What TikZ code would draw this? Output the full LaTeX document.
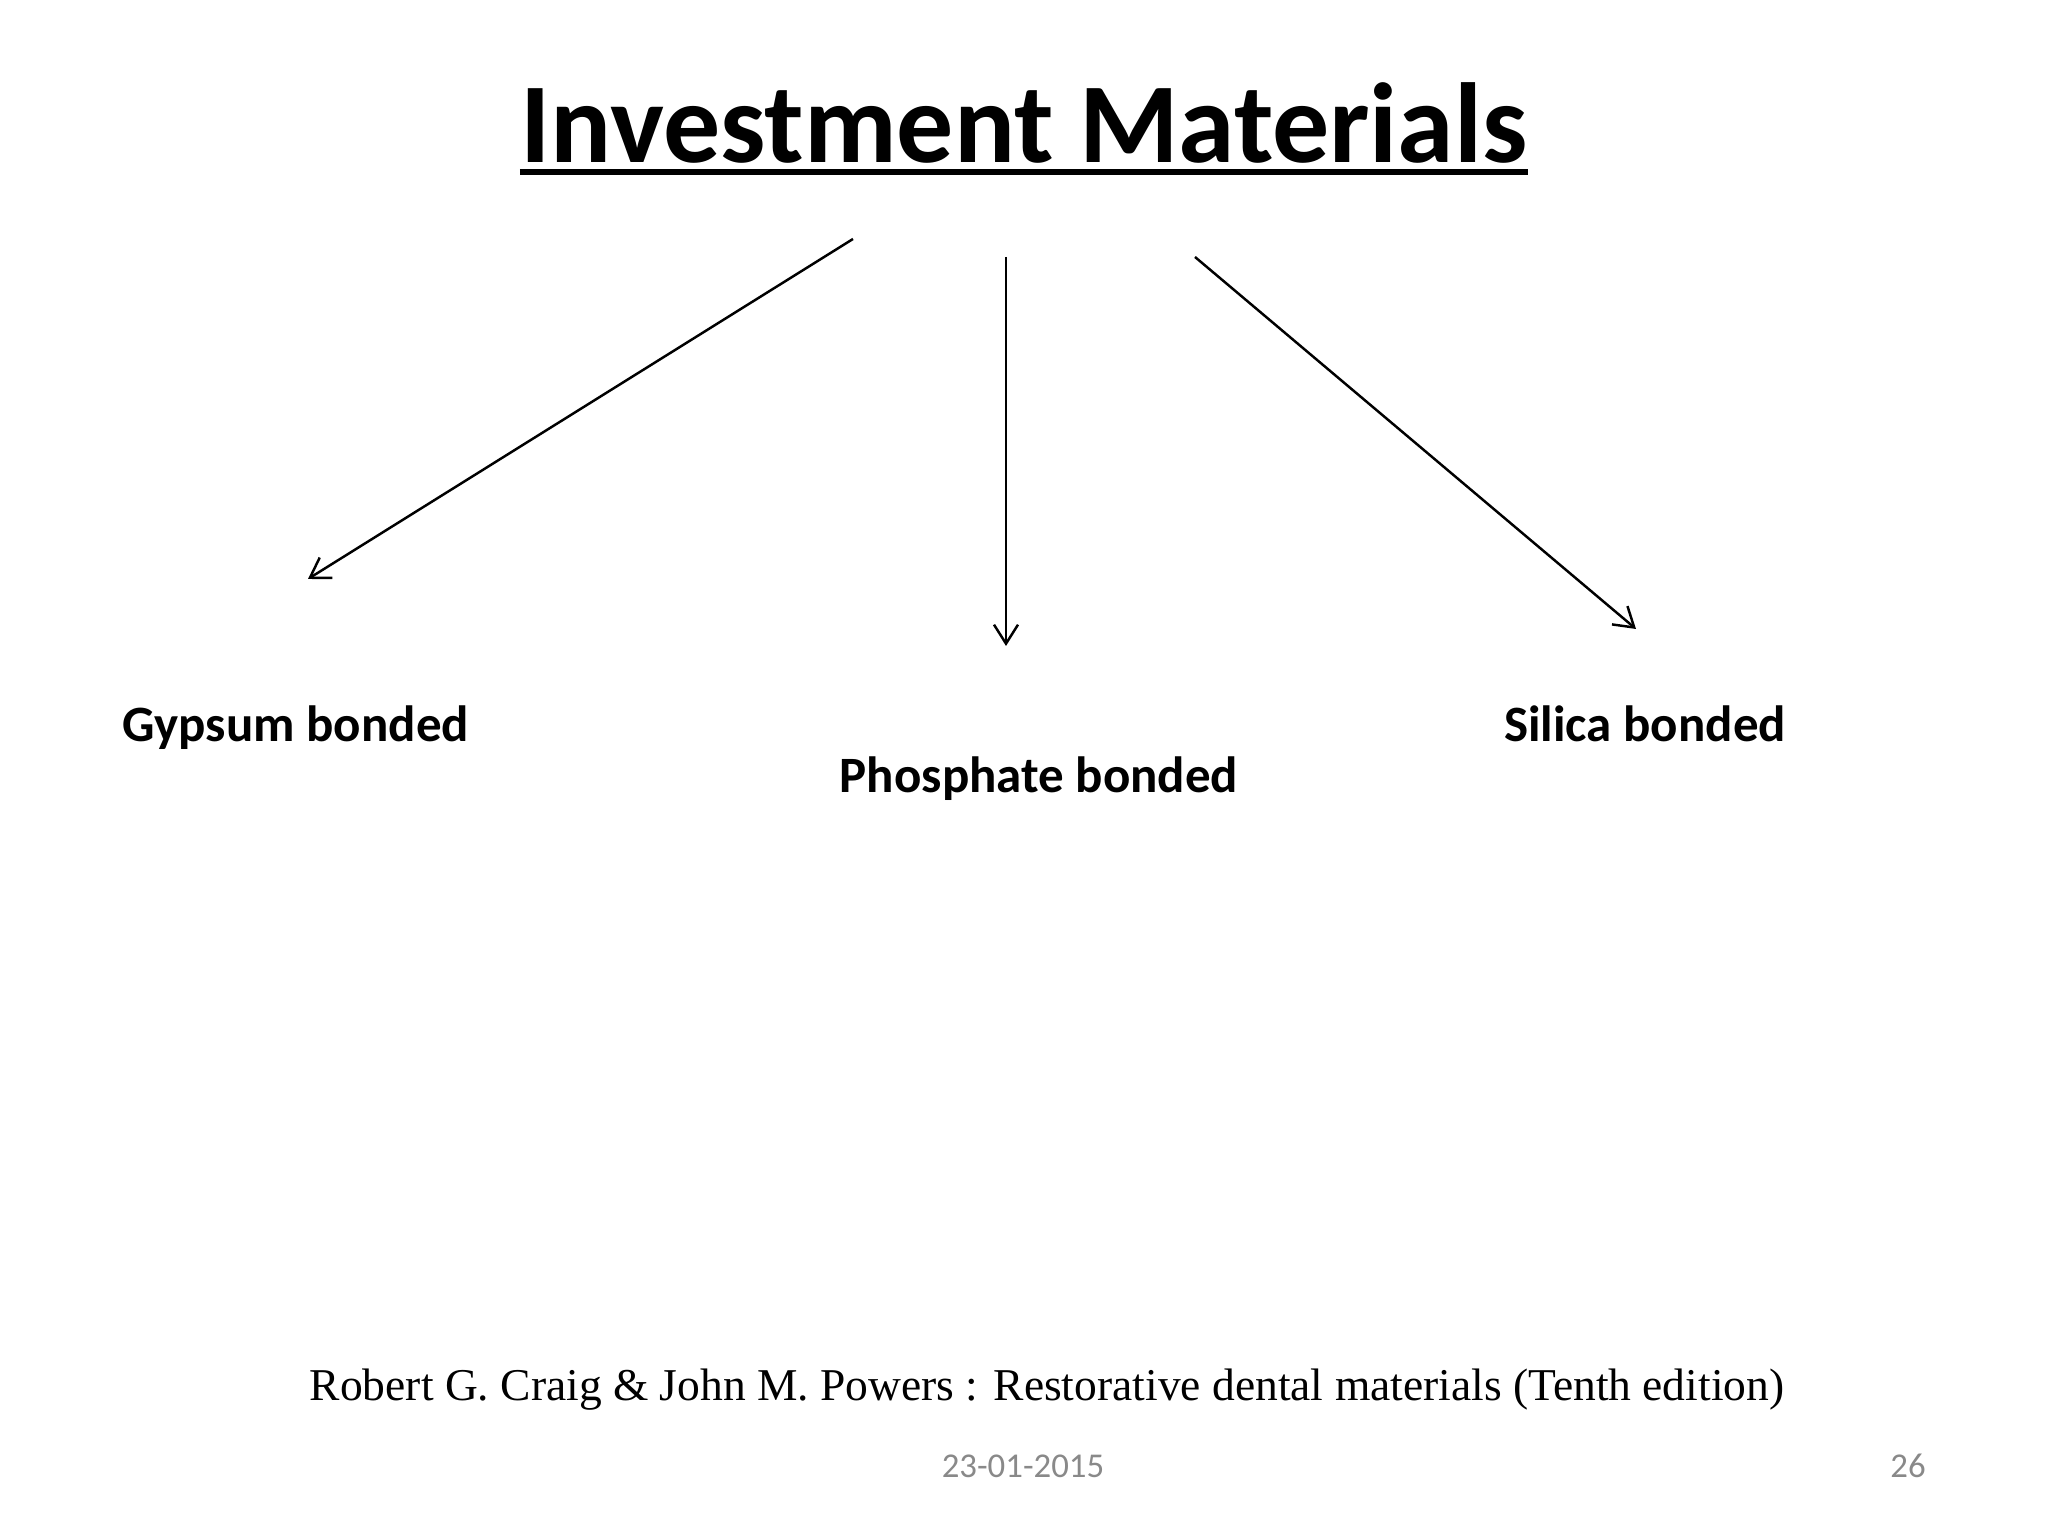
\documentclass[tikz,border=0pt]{standalone}
\usepackage{fontspec}
\setmainfont{Carlito}
\newfontfamily\refont{Liberation Serif}
\usepackage{tikz}
\usetikzlibrary{arrows.meta,positioning,calc}
\usepackage{xcolor}
\definecolor{imgray}{RGB}{137,137,137}
\tikzstyle{arrow} = [line width=0.7pt,-{Straight Barb[length=1.9mm,width=2.4mm,line width=0.7pt]}]
\tikzstyle{kind} = [anchor=base, inner sep=0pt, font=\fontsize{14.5}{17}\selectfont\bfseries]
\tikzstyle{foot} = [anchor=base, inner sep=0pt, text=imgray, font=\fontsize{9.9}{12}\selectfont]

\begin{document}
\begin{tikzpicture}
\useasboundingbox (0,0) rectangle (20.48,15.36);
\node[anchor=base, inner sep=0pt, font=\fontsize{32.4}{40}\selectfont\bfseries] (title) at (10.24,13.73) {Investment Materials};
\draw[line width=1.7pt] ($(title.base west)+(0,-0.09)$) -- ($(title.base east)+(0,-0.09)$);
% the three kinds
\node[kind] (gypsum) at (2.96,7.94) {Gypsum bonded};
\node[kind] (phosphate) at (10.39,7.43) {Phosphate bonded};
\node[kind] (silica) at (16.45,7.94) {Silica bonded};
\coordinate (s1) at (8.53,12.97);
\coordinate (s2) at (10.06,12.79);
\coordinate (s3) at (11.95,12.79);
\coordinate (e1) at (3.08,9.57);
\coordinate (e2) at (10.06,8.90);
\coordinate (e3) at (16.36,9.07);
\draw[arrow] (s1) -- (e1);
\draw[arrow] (s2) -- (e2);
\draw[arrow] (s3) -- (e3);
% reference and footer
\node[anchor=base, inner sep=0pt, font=\fontsize{12.95}{16}\selectfont\refont] (book) at (10.47,1.35) {Robert G. Craig \& John M. Powers : Restorative dental materials (Tenth edition)};
\node[foot] (date) at (10.23,0.58) {23-01-2015};
\node[foot] (page) at (19.08,0.58) {26};
\end{tikzpicture}
\end{document}
